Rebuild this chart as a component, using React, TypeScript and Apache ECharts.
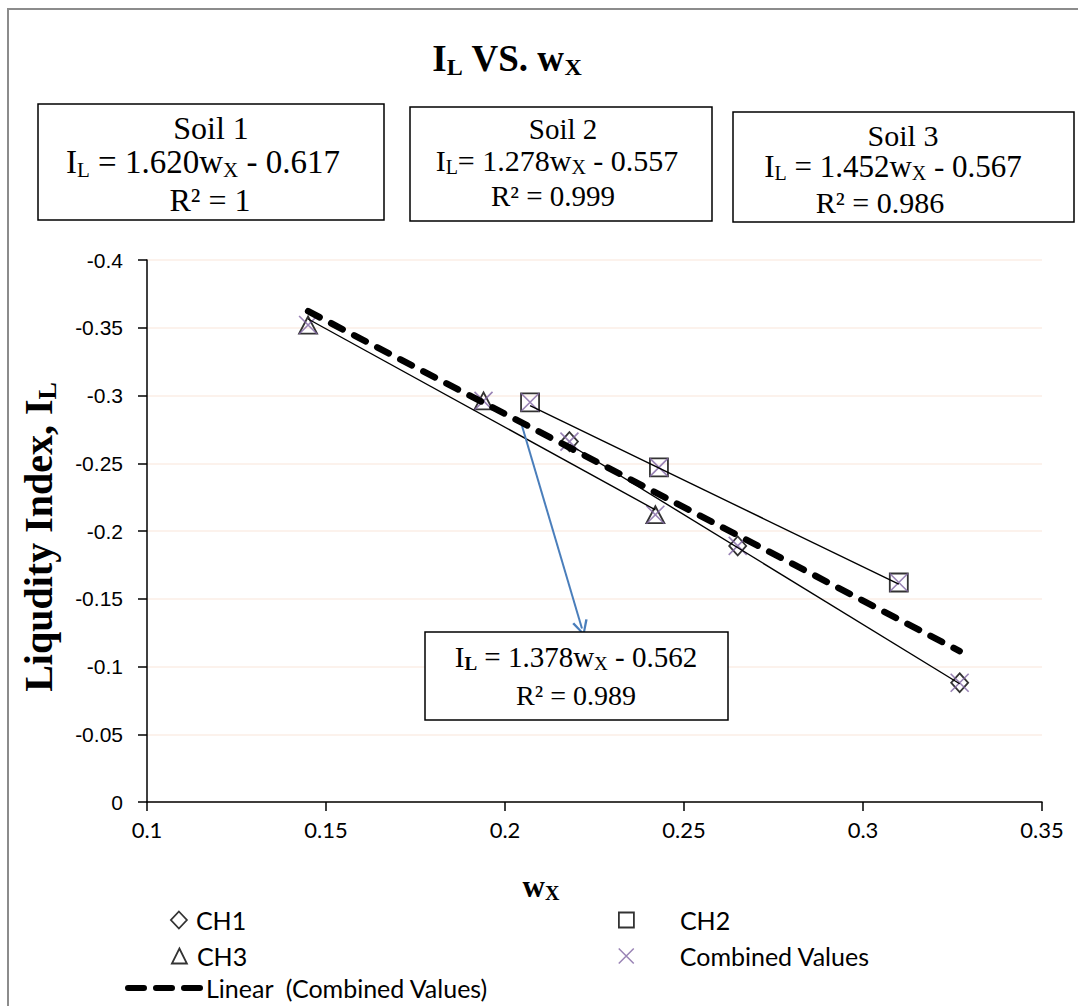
import React, { useEffect, useRef } from 'react';
import * as echarts from 'echarts';

// ---- data ----
const ch1X = [0.218, 0.265, 0.327];
const ch1Y = [-0.266, -0.189, -0.088];
const ch2X = [0.207, 0.243, 0.31];
const ch2Y = [-0.295, -0.247, -0.162];
const ch3X = [0.145, 0.194, 0.242];
const ch3Y = [-0.352, -0.296, -0.212];
const combinedX = [0.218, 0.265, 0.327, 0.207, 0.243, 0.31, 0.145, 0.194, 0.242];
const combinedY = [-0.266, -0.189, -0.088, -0.295, -0.247, -0.162, -0.352, -0.296, -0.212];

// trendline coefficients shown in the chart's labels
const trendSlopes = [1.62, 1.278, 1.452];
const trendIntercepts = [-0.617, -0.557, -0.567];
const combinedSlope = 1.378;
const combinedIntercept = -0.562;

// axis ranges
const xMin = 0.1, xMax = 0.35, xStep = 0.05;
const yMin = -0.4, yMax = 0, yStep = 0.05;

// arrow annotation (data coordinates)
const arrowFrom = [0.2047, -0.278];
const arrowTo = [0.2215, -0.128];

const SERIF = '"Liberation Serif", "Times New Roman", serif';
const SANS = '"Liberation Sans", Arial, sans-serif';
const LEG = 'Lato, "Open Sans", sans-serif';
const PURPLE = '#8064a2';

const toPairs = (xs: number[], ys: number[]) => xs.map((x, i) => [x, ys[i]]);
const trendLine = (xs: number[], m: number, b: number) => {
  const lo = Math.min(...xs), hi = Math.max(...xs);
  return [[lo, m * lo + b], [hi, m * hi + b]];
};

function rich(F: number, bold = false) {
  const fw = bold ? 'bold' : 'normal';
  const S = Math.round(F * 0.65);
  const drop = Math.round(F * 0.46);
  const lh = Math.round(F * 1.0);
  return {
    n: { fontSize: F, fontFamily: SERIF, fontWeight: fw, color: '#000', lineHeight: lh },
    s: { fontSize: S, fontFamily: SERIF, fontWeight: fw, color: '#000', padding: [drop, 0, 0, 0], lineHeight: lh },
    sb: { fontSize: S, fontFamily: SERIF, fontWeight: 'bold', color: '#000', padding: [drop, 0, 0, 0], lineHeight: lh },
  };
}

function txt(x: number, y: number, text: string, F: number, bold = false, rotation = 0) {
  return {
    type: 'text',
    x, y, rotation, z: 20,
    style: { text, rich: rich(F, bold), align: 'center', verticalAlign: 'middle', fill: '#000' },
  };
}

function box(x: number, y: number, w: number, h: number) {
  return {
    type: 'rect', z: 10,
    shape: { x, y, width: w, height: h },
    style: { fill: '#fff', stroke: '#000', lineWidth: 1.5 },
  };
}

export default function App() {
  const ref = useRef<HTMLDivElement>(null);
  useEffect(() => {
    if (!ref.current) return;
    const chart = echarts.init(ref.current, undefined, { renderer: 'svg' });
    const hollow = { color: 'rgba(0,0,0,0)', borderColor: '#000', borderWidth: 1.8 };
    const crossPath = 'path://M0,0L10,10M10,0L0,10';
    const dashIcon = 'path://M3,0H19A3,3 0 0 1 19,6H3A3,3 0 0 1 3,0Z M31,0H47A3,3 0 0 1 47,6H31A3,3 0 0 1 31,0Z M59,0H75A3,3 0 0 1 75,6H59A3,3 0 0 1 59,0Z';
    const legendText = { fontFamily: LEG, fontSize: 25, color: '#000', lineHeight: 28 };
    const legBase = { padding: 0, selectedMode: false, itemHeight: 15, itemWidth: 15 };
    const option: any = {
      animation: false,
      backgroundColor: '#fff',
      grid: { left: 147, right: 36, top: 260, bottom: 204, containLabel: false },
      xAxis: {
        type: 'value', min: xMin, max: xMax, interval: xStep,
        axisLine: { show: true, onZero: false, lineStyle: { color: '#000', width: 1.5 } },
        axisTick: { show: true, length: 9, lineStyle: { color: '#000', width: 1.5 } },
        axisLabel: { fontFamily: LEG, fontSize: 22, color: '#000', margin: 16 },
        splitLine: { show: false },
      },
      yAxis: {
        type: 'value', min: yMin, max: yMax, interval: yStep, inverse: true,
        axisLine: { show: true, onZero: false, lineStyle: { color: '#000', width: 1.5 } },
        axisTick: { show: true, length: 9, lineStyle: { color: '#000', width: 1.5 } },
        axisLabel: { fontFamily: SANS, fontSize: 21, color: '#000', margin: 24 },
        splitLine: { show: true, lineStyle: { color: '#fbeee6', width: 1.5 } },
      },
      legend: [
        { ...legBase, data: [{ name: 'CH1', icon: 'diamond' }], left: 170, top: 906, itemWidth: 16, itemHeight: 17, itemStyle: hollow, textStyle: { ...legendText, padding: [0, 0, 0, 4] } },
        { ...legBase, data: [{ name: 'CH2', icon: 'rect' }], left: 618, top: 906, itemStyle: hollow, textStyle: { ...legendText, padding: [0, 0, 0, 41] } },
        { ...legBase, data: [{ name: 'CH3', icon: 'triangle' }], left: 171, top: 942, itemStyle: hollow, textStyle: { ...legendText, padding: [0, 0, 0, 5] } },
        { ...legBase, data: [{ name: 'Combined Values', icon: crossPath }], left: 618, top: 942, itemStyle: { color: 'rgba(0,0,0,0)', borderColor: PURPLE, borderWidth: 1.5 }, textStyle: { ...legendText, padding: [0, 0, 0, 41] } },
        { ...legBase, data: [{ name: 'Linear  (Combined Values)', icon: dashIcon }], left: 125, top: 974, itemWidth: 78, itemHeight: 6, itemStyle: { color: '#000', borderWidth: 0 }, textStyle: { ...legendText, padding: [0, 0, 0, -2] } },
      ],
      graphic: [
        { type: 'rect', silent: true, z: 30, shape: { x: 8, y: 9, width: 1100, height: 1020 }, style: { fill: 'none', stroke: '#8c8c8c', lineWidth: 2 } },
        txt(507, 58, '{n|I}{s|L}{n| VS. w}{s|X}', 37, true),
        box(38, 104, 346, 116),
        txt(211, 128, '{n|Soil 1}', 32),
        txt(203, 162, '{n|I}{s|L}{n| = 1.620w}{s|X}{n| - 0.617}', 33),
        txt(210, 200, '{n|R² = 1}', 32),
        box(410, 107, 302, 114),
        txt(563, 129, '{n|Soil 2}', 29),
        txt(557, 160, '{n|I}{s|L}{n|= 1.278w}{s|X}{n| - 0.557}', 30),
        txt(553, 196, '{n|R² = 0.999}', 29),
        box(733, 112, 341, 110),
        txt(903, 135, '{n|Soil 3}', 30),
        txt(893, 166, '{n|I}{s|L}{n| = 1.452w}{s|X}{n| - 0.567}', 31),
        txt(880, 202, '{n|R² = 0.986}', 30),
        box(425, 632, 303, 88),
        txt(576, 657, '{n|I}{sb|L}{n| = 1.378w}{s|X}{n| - 0.562}', 29),
        txt(576, 695, '{n|R² = 0.989}', 28),
        txt(38, 537, '{n|Liqudity Index, I}{sb|L}', 40, true, Math.PI / 2),
        txt(541, 886, '{n|w}{s|X}', 31, true),
      ],
      series: [
        { name: 'CH1', type: 'scatter', data: toPairs(ch1X, ch1Y), symbol: 'diamond', symbolSize: [17, 19], itemStyle: hollow, z: 3 },
        { name: 'CH2', type: 'scatter', data: toPairs(ch2X, ch2Y), symbol: 'rect', symbolSize: 18, itemStyle: hollow, z: 3 },
        { name: 'CH3', type: 'scatter', data: toPairs(ch3X, ch3Y), symbol: 'triangle', symbolSize: [18, 17], itemStyle: hollow, z: 3 },
        { name: 'Combined Values', type: 'scatter', data: toPairs(combinedX, combinedY), symbol: crossPath, symbolSize: 18, itemStyle: { color: 'rgba(0,0,0,0)', borderColor: PURPLE, borderWidth: 1.6 }, z: 3 },
        ...[ [ch1X, 0], [ch2X, 1], [ch3X, 2] ].map(([xs, i]: any) => ({
          name: 'trend' + (i + 1), type: 'line', data: trendLine(xs, trendSlopes[i], trendIntercepts[i]),
          symbol: 'none', lineStyle: { color: '#000', width: 1.4 }, z: 4, silent: true,
        })),
        {
          name: 'Linear  (Combined Values)', type: 'line', data: trendLine(combinedX, combinedSlope, combinedIntercept),
          symbol: 'none', itemStyle: { color: '#000' }, lineStyle: { color: '#000', width: 6.5, type: [13, 13], cap: 'round' }, z: 5,
        },
        {
          name: 'arrow', type: 'line', data: [], z: 6, silent: true,
          markLine: {
            silent: true, animation: false,
            symbol: ['none', 'path://M0,10L5,0L10,10L8.6,10.6L5,3L1.4,10.6Z'], symbolSize: [16, 16],
            label: { show: false },
            lineStyle: { color: '#4a7ebb', width: 2, type: 'solid' },
            data: [[{ coord: arrowFrom }, { coord: arrowTo }]],
          },
        },
      ],
    };
    chart.setOption(option);
    return () => chart.dispose();
  }, []);
  return <div ref={ref} style={{ position: 'fixed', left: 0, top: 0, width: 1078, height: 1006, background: '#fff' }} />;
}
